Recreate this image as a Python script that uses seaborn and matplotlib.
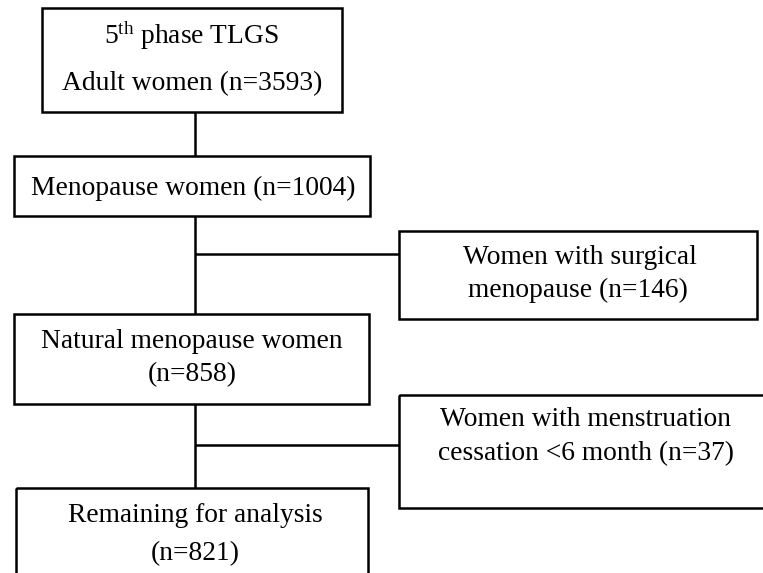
import matplotlib
matplotlib.use("Agg")
import matplotlib.pyplot as plt
import seaborn as sns
from matplotlib.patches import Rectangle

# %% Dados do fluxograma
etapas = ["Adult women", "Menopause women", "Natural menopause women", "Remaining for analysis"]
n_etapas = [3593, 1004, 858, 821]
exclusoes = ["Women with surgical\nmenopause", "Women with menstruation\ncessation <6 month"]
n_exclusoes = [146, 37]

sns.set_style("white")
plt.rcParams.update({
    "font.family": ["Liberation Serif", "DejaVu Serif"],
    "mathtext.fontset": "custom",
    "mathtext.rm": "Liberation Serif",
    "mathtext.it": "Liberation Serif:italic",
})

# %% Layout (pixels, origem no topo)
W, H = 763, 573
caixas = [
    (42, 8, 342, 112),    # fase 5
    (14, 156, 370, 216),  # menopausa
    (399, 231, 757, 319), # cirurgica
    (14, 314, 369, 404),  # natural
    (399, 395, 778, 508), # menstruacao
    (16, 488, 368, 610),  # restante
]
textos = [
    [(r"5$^{\mathrm{th}}$ phase TLGS", 192, 36), (f"{etapas[0]} (n={n_etapas[0]})", 192, 84)],
    [(f"{etapas[1]} (n={n_etapas[1]})", 193, 188)],
    [(exclusoes[0].split("\n")[0], 580, 257), (exclusoes[0].split("\n")[1] + f" (n={n_exclusoes[0]})", 578, 290)],
    [(etapas[2], 192, 342), (f"(n={n_etapas[2]})", 192, 375)],
    [(exclusoes[1].split("\n")[0], 586, 420), (exclusoes[1].split("\n")[1] + f" (n={n_exclusoes[1]})", 586, 454)],
    [(etapas[3], 195, 516), (f"(n={n_etapas[3]})", 195, 554)],
]

fig = plt.figure(figsize=(W / 100, H / 100), dpi=100)
ax = fig.add_axes([0, 0, 1, 1])
ax.set_xlim(0, W)
ax.set_ylim(H, 0)
ax.axis("off")

LW = 1.8
for (x0, y0, x1, y1) in caixas:
    ax.add_patch(Rectangle((x0, y0), x1 - x0, y1 - y0, fill=False,
                           edgecolor="black", linewidth=LW, clip_on=True))

for linhas in textos:
    for (txt, x, y) in linhas:
        ax.text(x, y, txt, ha="center", va="center", fontsize=19.8, color="black")

# conectores
xv = 195
for (ya, yb) in [(112, 156), (216, 314), (404, 488)]:
    ax.plot([xv, xv], [ya, yb], color="black", lw=LW, solid_capstyle="butt")
for yh in [254, 445]:
    ax.plot([xv, 399], [yh, yh], color="black", lw=LW, solid_capstyle="butt")

plt.savefig("out.png", dpi=100)
